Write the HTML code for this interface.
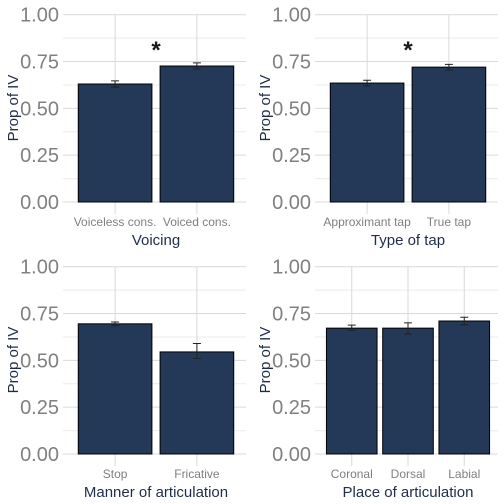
<!DOCTYPE html>
<html><head><meta charset="utf-8"><style>
body{margin:0;background:#fff}
svg{display:block;font-family:"Liberation Sans",sans-serif}
</style></head><body>
<svg id="c" width="504" height="504"></svg>
<script>
const p1Cats=["Voiceless cons.","Voiced cons."];
const p1Vals=[0.63,0.726];
const p1Lo=[0.613,0.71];
const p1Hi=[0.647,0.743];
const p2Cats=["Approximant tap","True tap"];
const p2Vals=[0.635,0.72];
const p2Lo=[0.62,0.705];
const p2Hi=[0.65,0.735];
const p3Cats=["Stop","Fricative"];
const p3Vals=[0.695,0.545];
const p3Lo=[0.685,0.51];
const p3Hi=[0.705,0.59];
const p4Cats=["Coronal","Dorsal","Labial"];
const p4Vals=[0.672,0.672,0.71];
const p4Lo=[0.66,0.64,0.69];
const p4Hi=[0.688,0.70,0.73];
const yTicks=["0.00","0.25","0.50","0.75","1.00"];
const titles=["Voicing","Type of tap","Manner of articulation","Place of articulation"];
const NS="http://www.w3.org/2000/svg";
const svg=document.getElementById('c');
function el(t,a,parent,txt){const e=document.createElementNS(NS,t);for(const k in a)e.setAttribute(k,a[k]);if(txt!==undefined)e.textContent=txt;(parent||svg).appendChild(e);return e;}
const panels=[[p1Cats,p1Vals,p1Lo,p1Hi,true],[p2Cats,p2Vals,p2Lo,p2Hi,true],[p3Cats,p3Vals,p3Lo,p3Hi,false],[p4Cats,p4Vals,p4Lo,p4Hi,false]];
panels.forEach((pd,i)=>{
  const [cats,vals,lo,hi,star]=pd;
  const ox=(i%2)*252, oy=Math.floor(i/2)*252;
  const L=ox+66,R=ox+246,T=oy+14.7,B=oy+202;
  const y=v=>B-v*(B-T);
  const unit=(R-L)/(cats.length+0.2);
  const x=k=>L+(k+0.6)*unit;
  const g=el('g',{});
  
  
  for(let m=0;m<4;m++){const ln=el('line',{x1:ox+63,x2:R,y1:y(0.125+m*0.25),y2:y(0.125+m*0.25),stroke:'#ebebeb','stroke-width':1},g);}
  yTicks.forEach((t,k)=>{
    const v=parseFloat(t);
    const ln=el('line',{x1:ox+63,x2:R,y1:y(v),y2:y(v),stroke:'#d9d9d9','stroke-width':1},g);
    
    const tx=el('text',{x:ox+59,y:y(v)+7,'text-anchor':'end','font-size':20,fill:'#808080'},g,t);
    
  });
  cats.forEach((c,k)=>{
    const ln=el('line',{x1:x(k),x2:x(k),y1:T,y2:B+12,stroke:'#d9d9d9','stroke-width':1},g);
    
  });
  cats.forEach((c,k)=>{
    const w=unit*0.9;
    const r=el('rect',{x:x(k)-w/2,y:y(vals[k]),width:w,height:y(0)-y(vals[k]),fill:'#243858',stroke:'#000','stroke-width':1},g);
    
    const e=el('path',{d:`M${x(k)-4} ${y(hi[k])}H${x(k)+4}M${x(k)} ${y(hi[k])}V${y(lo[k])}M${x(k)-4} ${y(lo[k])}H${x(k)+4}`,stroke:'#222','stroke-width':1,fill:'none'},g);
    
    const t=el('text',{x:x(k),y:oy+226,'text-anchor':'middle','font-size':12,fill:'#7f7f7f'},g,c);
    
  });
  if(star){const s=el('text',{x:(x(0)+x(1))/2,y:oy+58,'text-anchor':'middle','font-size':24,'font-weight':'bold',fill:'#1a1a1a'},g,'*');}
  const xt=el('text',{x:(L+R)/2,y:oy+245,'text-anchor':'middle','font-size':15,fill:'#1f2d4a'},g,titles[i]);
  
  const yt=el('text',{x:0,y:0,transform:`translate(${ox+18},${oy+108}) rotate(-90)`,'text-anchor':'middle','font-size':15,fill:'#1f2d4a'},g,'Prop of IV');
  
});
</script>
</body></html>
